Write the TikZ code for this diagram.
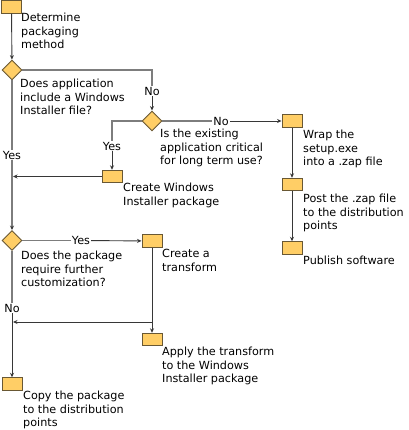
\documentclass[tikz,border=0pt]{standalone}
\usepackage{fontspec}
\setmainfont{DejaVu Sans}
\usetikzlibrary{shapes.geometric,arrows.meta}
\definecolor{boxfill}{RGB}{255,206,102}
\definecolor{boxborder}{RGB}{105,88,52}
\definecolor{flowgray}{RGB}{125,125,125}
\definecolor{arrdark}{RGB}{55,55,55}
\newcommand{\txtfont}{\fontsize{11.2}{13.6}\selectfont}
\tikzset{
 box/.style={draw=boxborder, fill=boxfill, minimum width=20pt, minimum height=12.5pt, inner sep=0pt, line width=0.9pt},
 dia/.style={diamond, draw=boxborder, fill=boxfill, minimum width=20pt, minimum height=20pt, inner sep=0pt, line width=0.9pt},
 txt/.style={anchor=north west, inner sep=0pt, align=left, font=\txtfont},
 lbl/.style={fill=white, inner sep=1pt, font=\txtfont},
 flow/.style={draw=flowgray, line width=1.7pt},
 tip/.style={-{Stealth[length=4.5pt,width=4pt,color=arrdark]}},
 arr/.style={draw=arrdark, line width=0.9pt, tip},
}
\begin{document}
\begin{tikzpicture}[x=1pt,y=-1pt]
\useasboundingbox (0,0) rectangle (408,430);
% boxes and diamonds
\node[box] (b1) at (11.5,7) {};
\node[dia] (d1) at (12,70) {};
\node[dia] (d2) at (152,121) {};
\node[box] (wrap) at (292,121) {};
\node[box] (post) at (292,184.5) {};
\node[box] (pub) at (292,248) {};
\node[box] (cw) at (112,176.5) {};
\node[dia] (d3) at (12,240.5) {};
\node[box] (ct) at (152,241) {};
\node[box] (ap) at (152,339.5) {};
\node[box] (cp) at (12,384) {};
% texts
\node[txt] (t1) at (21,13) {Determine\\packaging\\method};
\node[txt] (t2) at (20,79) {Does application\\include a Windows\\Installer file?};
\node[txt] (t3) at (160,129) {Is the existing\\application critical\\for long term use?};
\node[txt] (t4) at (303,130) {Wrap the\\setup.exe\\into a .zap file};
\node[txt] (t5) at (303,194) {Post the .zap file\\to the distribution\\points};
\node[txt] (t6) at (303,256) {Publish software};
\node[txt] (t7) at (123,183) {Create Windows\\Installer package};
\node[txt] (t8) at (21,251) {Does the package\\require further\\customization?};
\node[txt] (t9) at (162,249) {Create a\\transform};
\node[txt] (t10) at (162,347) {Apply the transform\\to the Windows\\Installer package};
\node[txt] (t11) at (23,391) {Copy the package\\to the distribution\\points};
% labels
\node[lbl] (no1) at (152,91) {No};
\node[lbl] (no2) at (221,121) {No};
\node[lbl] (yes1) at (112,146) {Yes};
\node[lbl] (yes2) at (12,155) {Yes};
\node[lbl] (yes3) at (81,240.5) {Yes};
\node[lbl] (no3) at (12,308) {No};
\coordinate (j1) at (152,322);
\coordinate (j2) at (13,322);
% connectors
\draw[arr] (b1) -- (d1);
\draw[flow] (d1.east) -| (no1.north);
\draw[arr] (no1) -- (d2);
\draw[flow] (d2.east) -- (no2.west);
\draw[arr] (no2) -- (wrap);
\draw[arr] (wrap) -- (post);
\draw[arr] (post) -- (pub);
\draw[flow] (d2.west) -| (yes1.north);
\draw[arr] (yes1) -- (cw);
\draw[flow] (d1.south) -- (yes2.north);
\draw[flow,tip] (yes2.south) -- (d3.north);
\draw[arr] (cw.west) -- ([xshift=1pt]cw.west -| d1.center);
\draw[flow] (d3.east) -- (yes3.west);
\draw[arr] (yes3) -- (ct);
\draw[arr] (ct) -- (ap);
\draw[arr] (j1) -- (j2);
\draw[flow] (d3.south) -- (no3.north);
\draw[arr] (no3) -- (cp);
\end{tikzpicture}
\end{document}
